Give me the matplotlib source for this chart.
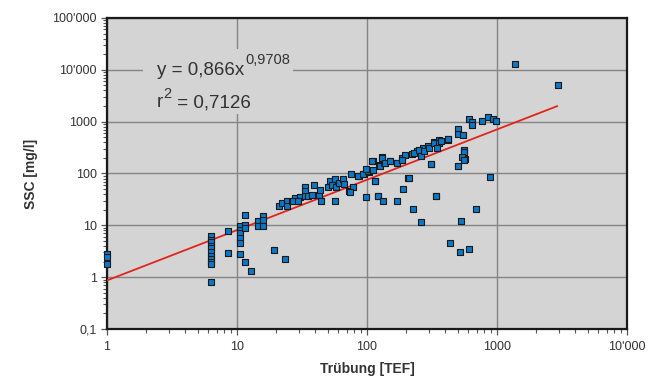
import numpy as np
import matplotlib.pyplot as plt
from matplotlib.patches import Rectangle
from matplotlib.ticker import FixedLocator, LogLocator, NullFormatter

plt.rcParams['font.family'] = ['Liberation Sans', 'DejaVu Sans']

# Trübung [TEF] vs SSC [mg/l]
turb = [1, 1, 1,
        6.3, 6.3, 6.3, 6.3, 6.3, 6.3, 6.3, 6.3, 6.3, 6.3, 6.3,
        8.5, 8.5,
        10.5, 10.5, 10.5, 10.5, 10.5, 10.5,
        11.5, 11.5, 11.5, 11.5, 12.8,
        14.6, 14.6, 15.8, 15.8, 15.8, 19.3, 23.5,
        21.1, 22.0, 24.2, 24.4, 26.4, 28, 30.6, 26.8, 29.7,
        33.4, 33.4, 33.4, 35.3, 37.6, 39.3, 42.5, 43.8, 44.5, 50.5, 52, 53.5,
        56.7, 57.3, 56.7, 61.2, 65.7, 66.5, 73.3, 75.6, 78.6, 86.3, 94.5, 98.9,
        103, 111, 116, 121, 123,
        74.6, 85, 93, 102, 112, 125, 135, 151, 170, 186, 197, 222, 243, 270,
        293, 326, 356, 421, 98, 116, 130, 110,
        122, 133, 170, 188, 206, 226, 258, 311, 342, 433, 515, 607, 531, 684,
        877, 503, 556, 546, 572, 503, 503, 546,
        610, 645, 645, 770, 850, 935, 990,
        1370, 2960,
        130, 138, 150, 169, 185, 209, 228, 250, 258, 273, 298, 312, 326, 358,
        346, 418, 338, 368, 418, 553, 560, 540, 560, 500]
ssc = [2.8, 2.5, 1.8,
       6.1, 5.3, 4.7, 4.0, 3.6, 3.1, 2.6, 2.2, 2.0, 1.8, 0.81,
       7.9, 2.9,
       9.5, 8.2, 7.0, 5.8, 4.5, 2.8,
       15.5, 10.2, 9.0, 1.95, 1.34,
       11.9, 9.5, 14.9, 12.4, 9.5, 3.4, 2.2,
       23.9, 27, 29, 24, 30, 34, 35, 30, 29,
       56, 45, 36, 36, 39, 61, 39, 47, 29, 56, 71, 61,
       78, 56, 30, 66, 78, 63, 45, 98, 56, 88, 98, 35,
       105, 172, 71, 36, 145,
       44, 88, 98, 110, 119, 142, 160, 172, 160, 200, 232, 243, 269, 313,
       336, 401, 433, 453, 124, 73, 206, 172,
       36, 29, 29, 50, 81, 21, 11.6, 153, 36, 4.5, 3.0, 3.5, 11.9, 21,
       86, 142, 277, 206, 192, 706, 583, 548,
       1140, 980, 860, 1030, 1220, 1140, 1030,
       13100, 5040,
       200, 162, 172, 162, 186, 82, 250, 290, 220, 268, 312, 155, 388, 388,
       312, 450, 37, 420, 470, 278, 258, 207, 186, 142]

# power fit shown on the chart
fit_a = 0.866
fit_b = 0.9708
fit_range = [1, 2900]

x_ticks = [1, 10, 100, 1000, 10000]
x_labels = ['1', '10', '100', '1000', "10'000"]
y_ticks = [0.1, 1, 10, 100, 1000, 10000, 100000]
y_labels = ['0,1', '1', '10', '100', '1000', "10'000", "100'000"]

bg = '#d4d4d4'
txt_col = '#333333'

fig = plt.figure(figsize=(6.51, 3.81), dpi=100)
ax = fig.add_axes([0.1644, 0.1365, 0.7987, 0.8163])
ax.set_facecolor(bg)
ax.set_xscale('log')
ax.set_yscale('log')
ax.set_xlim(1, 10000)
ax.set_ylim(0.1, 100000)

ax.grid(True, which='major', color='#858585', lw=1.0, zorder=0)
ax.set_axisbelow(True)

xf = np.logspace(np.log10(fit_range[0]), np.log10(fit_range[1]), 100)
ax.plot(xf, fit_a * xf ** fit_b, color='#e3241b', lw=1.3, zorder=3)
ax.scatter(turb, ssc, marker='s', s=20, facecolor='#0a78c8', edgecolor='#1a1a1a',
           linewidth=0.8, zorder=4, clip_on=False)

ax.xaxis.set_major_locator(FixedLocator(x_ticks))
ax.set_xticklabels(x_labels)
ax.yaxis.set_major_locator(FixedLocator(y_ticks))
ax.set_yticklabels(y_labels)
for axis in (ax.xaxis, ax.yaxis):
    axis.set_minor_locator(LogLocator(base=10, subs=np.arange(2, 10), numticks=20))
    axis.set_minor_formatter(NullFormatter())
ax.tick_params(which='both', direction='out', color='#555555', labelsize=9,
               labelcolor=txt_col)
ax.tick_params(which='major', length=4, width=0.9)
ax.tick_params(which='minor', length=3, width=0.8)
ax.tick_params(axis='x', pad=5)

for sp in ax.spines.values():
    sp.set_linewidth(1.6)
    sp.set_color('#1a1a1a')

ax.set_xlabel('Trübung [TEF]', fontsize=10, fontweight='bold', color=txt_col, labelpad=6)
ax.set_ylabel('SSC [mg/l]', fontsize=10, fontweight='bold', color=txt_col, labelpad=10)

# equation label on a plain patch that hides the grid behind it
ax.add_patch(Rectangle((0.069, 0.691), 0.289, 0.21, transform=ax.transAxes,
                       facecolor=bg, edgecolor='none', zorder=1))
t1 = ax.text(0.096, 0.817, 'y = 0,866x', transform=ax.transAxes, fontsize=13.5,
             color=txt_col, va='baseline', ha='left', zorder=5)
ax.annotate('0,9708', xy=(1, 0.817), xycoords=(t1, 'axes fraction'),
            xytext=(0.5, 7.5), textcoords='offset points', fontsize=10.5,
            color=txt_col, va='baseline', ha='left', zorder=5)
t_r = ax.text(0.096, 0.713, 'r', transform=ax.transAxes, fontsize=13.5,
              color=txt_col, va='baseline', ha='left', zorder=5)
t_2 = ax.annotate('2', xy=(1, 0.713), xycoords=(t_r, 'axes fraction'),
                  xytext=(0.3, 6.8), textcoords='offset points', fontsize=10.5,
                  color=txt_col, va='baseline', ha='left', zorder=5)
ax.annotate(' = 0,7126', xy=(1, 0.713), xycoords=(t_2, 'axes fraction'),
            fontsize=13.5, color=txt_col, va='baseline', ha='left', zorder=5)

fig.savefig('out.png', dpi=100)
